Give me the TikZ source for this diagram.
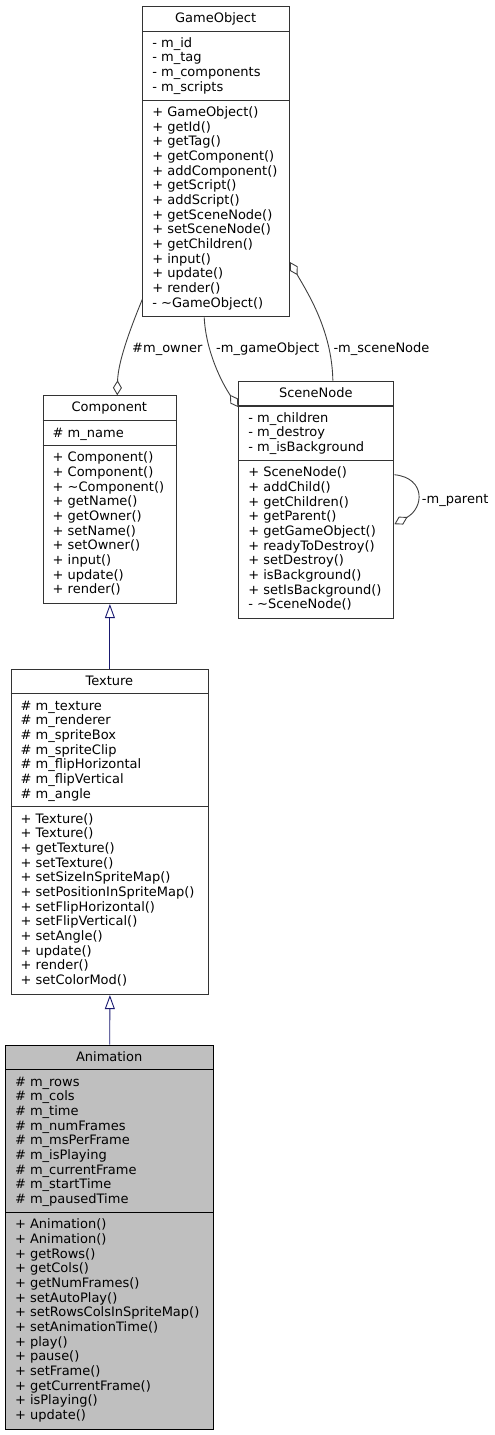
\documentclass[tikz,border=0pt]{standalone}
\usepackage{fontspec}
\setmainfont{DejaVu Sans}
\usetikzlibrary{arrows.meta}
\definecolor{midnightblue}{HTML}{191970}
\definecolor{grey25}{HTML}{404040}
\definecolor{grey75}{HTML}{BFBFBF}
\begin{document}
\begin{tikzpicture}[x=1pt,y=-1pt,
  font=\fontsize{13pt}{14.67pt}\selectfont,
  classbox/.style={draw=black!80, line width=1.1pt, rectangle, inner sep=0pt, anchor=north west},
  mainbox/.style={classbox, draw=black, fill=grey75},
  sepline/.style={draw=black!80, line width=1.1pt},
  txt/.style={anchor=base west, inner sep=0pt},
  ttl/.style={anchor=base, inner sep=0pt},
  lbl/.style={anchor=base west, inner sep=0pt},
  assoc/.style={draw=grey25, line width=0.9pt, -{Diamond[open,length=15pt,width=9pt]}},
  inh/.style={draw=midnightblue, line width=0.9pt, -{Triangle[open,length=14pt,width=10pt]}},
]
\useasboundingbox (0,0) rectangle (495,1435);

% ---------------- GameObject ----------------
\node[classbox, minimum width=146.7pt, minimum height=310.6pt] (GO) at (142.3,5.7) {};
\draw[sepline] (GO.west |- 0,31.3) -- (GO.east |- 0,31.3);
\draw[sepline] (GO.west |- 0,100.3) -- (GO.east |- 0,100.3);
\node[ttl] (GOt) at (215.65,22) {GameObject};
\foreach \t [count=\i from 0] in {- m\_id,- m\_tag,- m\_components,- m\_scripts}
  \node[txt] (GOa\i) at (152.1,{47+\i*14.67}) {\t};
\foreach \t [count=\i from 0] in {+ GameObject(),+ getId(),+ getTag(),+ getComponent(),+ addComponent(),+ getScript(),+ addScript(),+ getSceneNode(),+ setSceneNode(),+ getChildren(),+ input(),+ update(),+ render(),- \textasciitilde GameObject()}
  \node[txt] (GOm\i) at (152.1,{116.6+\i*14.67}) {\t};

% ---------------- Component ----------------
\node[classbox, minimum width=133.3pt, minimum height=207.7pt] (C) at (42.7,395.3) {};
\draw[sepline] (C.west |- 0,420.7) -- (C.east |- 0,420.7);
\draw[sepline] (C.west |- 0,445.7) -- (C.east |- 0,445.7);
\node[ttl] (Ct) at (109.35,411.5) {Component};
\node[txt] (Ca0) at (52.5,437.3) {\# m\_name};
\foreach \t [count=\i from 0] in {+ Component(),+ Component(),+ \textasciitilde Component(),+ getName(),+ getOwner(),+ setName(),+ setOwner(),+ input(),+ update(),+ render()}
  \node[txt] (Cm\i) at (52.5,{461.9+\i*14.67}) {\t};

% ---------------- SceneNode ----------------
\node[classbox, minimum width=155pt, minimum height=237pt] (SN) at (238.3,380.7) {};
\draw[sepline] (SN.west |- 0,406) -- (SN.east |- 0,406);
\draw[sepline] (SN.west |- 0,460.3) -- (SN.east |- 0,460.3);
\node[ttl] (SNt) at (315.8,397) {SceneNode};
\foreach \t [count=\i from 0] in {- m\_children,- m\_destroy,- m\_isBackground}
  \node[txt] (SNa\i) at (248.1,{422+\i*14.67}) {\t};
\foreach \t [count=\i from 0] in {+ SceneNode(),+ addChild(),+ getChildren(),+ getParent(),+ getGameObject(),+ readyToDestroy(),+ setDestroy(),+ isBackground(),+ setIsBackground(),- \textasciitilde SceneNode()}
  \node[txt] (SNm\i) at (248.1,{476.7+\i*14.67}) {\t};

% ---------------- Texture ----------------
\node[classbox, minimum width=197.3pt, minimum height=325pt] (T) at (10.7,669) {};
\draw[sepline] (T.west |- 0,693.7) -- (T.east |- 0,693.7);
\draw[sepline] (T.west |- 0,806.3) -- (T.east |- 0,806.3);
\node[ttl] (Tt) at (109.35,685.3) {Texture};
\foreach \t [count=\i from 0] in {\# m\_texture,\# m\_renderer,\# m\_spriteBox,\# m\_spriteClip,\# m\_flipHorizontal,\# m\_flipVertical,\# m\_angle}
  \node[txt] (Ta\i) at (20.5,{710.1+\i*14.67}) {\t};
\foreach \t [count=\i from 0] in {+ Texture(),+ Texture(),+ getTexture(),+ setTexture(),+ setSizeInSpriteMap(),+ setPositionInSpriteMap(),+ setFlipHorizontal(),+ setFlipVertical(),+ setAngle(),+ update(),+ render(),+ setColorMod()}
  \node[txt] (Tm\i) at (20.5,{823+\i*14.67}) {\t};

% ---------------- Animation ----------------
\node[mainbox, minimum width=208.3pt, minimum height=384.3pt] (A) at (5,1044.7) {};
\draw[sepline, draw=black] (A.west |- 0,1069.7) -- (A.east |- 0,1069.7);
\draw[sepline, draw=black] (A.west |- 0,1212.7) -- (A.east |- 0,1212.7);
\node[ttl] (At) at (109.15,1061.3) {Animation};
\foreach \t [count=\i from 0] in {\# m\_rows,\# m\_cols,\# m\_time,\# m\_numFrames,\# m\_msPerFrame,\# m\_isPlaying,\# m\_currentFrame,\# m\_startTime,\# m\_pausedTime}
  \node[txt] (Aa\i) at (14.8,{1086.1+\i*14.67}) {\t};
\foreach \t [count=\i from 0] in {+ Animation(),+ Animation(),+ getRows(),+ getCols(),+ getNumFrames(),+ setAutoPlay(),+ setRowsColsInSpriteMap(),+ setAnimationTime(),+ play(),+ pause(),+ setFrame(),+ getCurrentFrame(),+ isPlaying(),+ update()}
  \node[txt] (Am\i) at (14.8,{1228.9+\i*14.67}) {\t};

% ---------------- connectors ----------------
\draw[inh] (T.north) -- (C.south);
\draw[inh] (A.north) -- (T.south);

\draw[assoc] ([yshift=18pt]GO.south west) .. controls (133,322) and (118,360) .. ([xshift=7.35pt]C.north);
\draw[assoc] ([xshift=-12pt]GO.south) .. controls (206,352) and (222,383) .. ([yshift=-26.5pt]SN.north west);
\draw[assoc] ([xshift=16.5pt]SN.north) .. controls (332,330) and (307,292) .. ([yshift=55.3pt]GO.south east);
\draw[assoc] ([yshift=-94pt]SN.north east) .. controls (426,478) and (424,508) .. ([yshift=-143.5pt]SN.north east);

\node[lbl] (Lowner) at (132,352) {\#m\_owner};
\node[lbl] (Lgo) at (216,352) {-m\_gameObject};
\node[lbl] (Lsn) at (333.3,352) {-m\_sceneNode};
\node[lbl] (Lpar) at (421.7,503) {-m\_parent};
\end{tikzpicture}
\end{document}
